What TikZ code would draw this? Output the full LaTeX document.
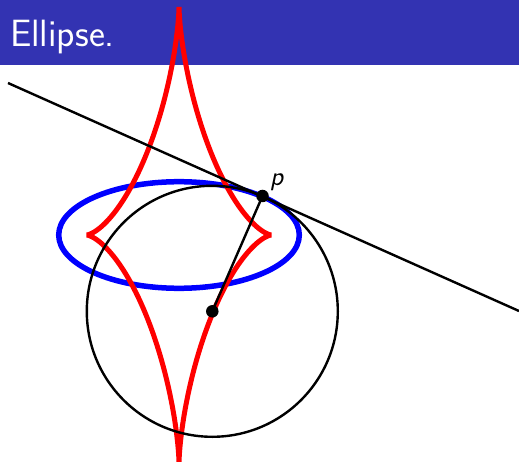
\documentclass[tikz,border=0pt]{standalone}
\usepackage{fontspec}
\definecolor{headerblue}{RGB}{51,51,178}
\tikzset{
  ellipseline/.style={draw=blue, line width=5.5pt},
  evoluteline/.style={draw=red, line width=5pt},
  blackline/.style={draw=black, line width=2.4pt},
  dotnode/.style={circle, fill=black, inner sep=0pt, minimum size=12.5pt},
}
\begin{document}
\begin{tikzpicture}[x=1pt, y=-1pt]
\useasboundingbox (0,0) rectangle (519,462);
% header
\fill[headerblue] (0,0) rectangle (519,65);
\node[anchor=base west, inner sep=0pt, text=white,
      font=\sffamily\fontsize{38}{40}\selectfont] (title) at (10,47) {Ellipse.};
% ellipse
\draw[ellipseline] (179,235) ellipse [x radius=120.3pt, y radius=53.3pt];
% evolute
\draw[evoluteline] plot[domain=0:359, samples=360, variable=\t]
  ({179+92.5*cos(\t)*cos(\t)*cos(\t)}, {235+228*sin(\t)*sin(\t)*sin(\t)}) -- cycle;
% points
\coordinate (P) at (262.5,196);
\coordinate (E) at (212.3,311.3);
\coordinate (T1) at (8,83);
\coordinate (T2) at (519,311);
% tangent line
\draw[blackline] (T1) -- (T2);
% osculating circle
\draw[blackline] (E) circle [radius=125.5pt];
% normal segment
\draw[blackline] (P) -- (E);
\node[dotnode] (pdot) at (P) {};
\node[dotnode] (edot) at (E) {};
\node[anchor=base west, inner sep=0pt,
      font=\sffamily\itshape\fontsize{27}{30}\selectfont] (plabel) at (270,186) {p};
\end{tikzpicture}
\end{document}
